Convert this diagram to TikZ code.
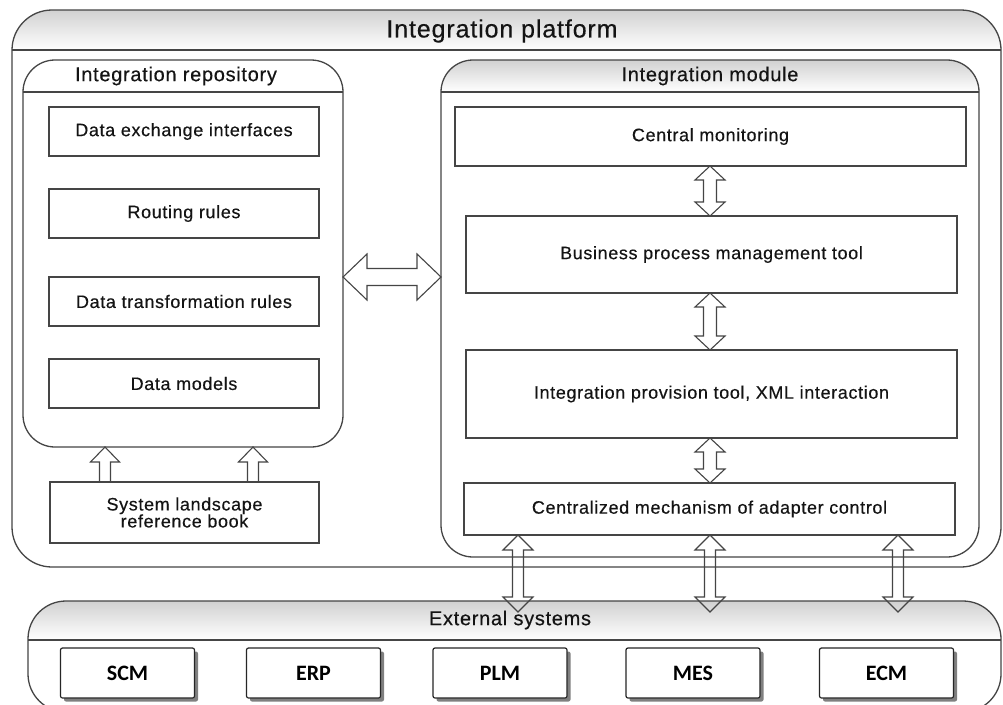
\documentclass[tikz,border=0pt]{standalone}
\usepackage{fontspec}
\setmainfont{Liberation Sans}
\newfontfamily\lblfont{Liberation Sans}[LetterSpace=3.5, FakeBold=0.35]
\newfontfamily\sysfont{Carlito}
\usetikzlibrary{calc,shadows}

\definecolor{edge}{gray}{0.27}
\definecolor{ink}{gray}{0.08}
\definecolor{hdr}{gray}{0.82}

\tikzset{
  every node/.style={inner sep=0pt, outer sep=0pt},
  panel/.style={fill=white},
  frame/.style={draw=edge, line width=1.3pt, rounded corners=#1},
  hline/.style={draw=edge, line width=1.8pt},
  ttl/.style={text=ink, font=\lblfont\fontsize{25}{28}\selectfont},
  subttl/.style={text=ink, font=\lblfont\fontsize{20}{23}\selectfont},
  item/.style={draw=edge, line width=1.2pt, fill=white, text=ink,
      font=\lblfont\fontsize{18}{17}\selectfont, align=center},
  sysbox/.style={draw=black!85, line width=1.2pt, fill=white, rounded corners=2pt,
      minimum width=134pt, minimum height=50pt, text=black,
      font=\sysfont\bfseries\fontsize{22}{24}\selectfont,
      drop shadow={shadow xshift=3.5pt, shadow yshift=-3.5pt, fill=black!50, opacity=1}},
  flow/.style={draw=edge, line width=1.1pt, line join=miter},
}

% rounded panel with a shaded header band: #1 node, #2 corner radius, #3 header line y
\newcommand\headerpanel[3]{%
  \begin{scope}
    \clip[rounded corners=#2] (#1.north west) rectangle (#1.south east);
    \shade[top color=hdr, bottom color=white] (#1.north west) rectangle (#1.east |- 0,#3);
  \end{scope}
  \draw[frame=#2] (#1.north west) rectangle (#1.south east);
  \draw[hline] (#1.west |- 0,#3) -- (#1.east |- 0,#3);}

% double-headed vertical arrow between a top and a bottom point
% #3 head half width, #4 head length, #5 shaft half width
\newcommand\vdarrow[5]{%
  \draw[flow] let \p1=(#1), \p2=(#2) in
    (\x1,\y1) -- (\x1-#3,\y1-#4) -- (\x1-#5,\y1-#4) -- (\x1-#5,\y2+#4)
    -- (\x1-#3,\y2+#4) -- (\x1,\y2) -- (\x1+#3,\y2+#4) -- (\x1+#5,\y2+#4)
    -- (\x1+#5,\y1-#4) -- (\x1+#3,\y1-#4) -- cycle;}
% double-headed horizontal arrow between a left and a right point
\newcommand\hdarrow[5]{%
  \draw[flow] let \p1=(#1), \p2=(#2) in
    (\x1,\y1) -- (\x1+#4,\y1+#3) -- (\x1+#4,\y1+#5) -- (\x2-#4,\y1+#5)
    -- (\x2-#4,\y1+#3) -- (\x2,\y1) -- (\x2-#4,\y1-#3) -- (\x2-#4,\y1-#5)
    -- (\x1+#4,\y1-#5) -- (\x1+#4,\y1-#3) -- cycle;}
% single upward arrow from a base point to a tip point
\newcommand\uparrowshape[5]{%
  \draw[flow] let \p1=(#1), \p2=(#2) in
    (\x1,\y1) -- (\x1+#3,\y1-#4) -- (\x1+#5,\y1-#4) -- (\x1+#5,\y2)
    -- (\x1-#5,\y2) -- (\x1-#5,\y1-#4) -- (\x1-#3,\y1-#4) -- cycle;}

\begin{document}
\begin{tikzpicture}[x=1pt, y=-1pt]
\useasboundingbox (0,0) rectangle (1003,704);
\clip (0,0) rectangle (1003,704);
\fill[white] (0,0) rectangle (1003,704);

% ---- containers ----
\node[panel, minimum width=989pt, minimum height=557pt] (plat) at (506.5,288.5) {};
\headerpanel{plat}{40pt}{50}
\node[ttl] (platT) at (502,31) {Integration platform};

\node[panel, minimum width=320pt, minimum height=387pt] (repo) at (183,253.5) {};
\draw[frame=32pt] (repo.north west) rectangle (repo.south east);
\draw[hline] (repo.west |- 0,92) -- (repo.east |- 0,92);
\node[subttl] (repoT) at (176,76) {Integration repository};

\node[panel, minimum width=538pt, minimum height=497pt] (mod) at (710,308.5) {};
\headerpanel{mod}{32pt}{92}
\node[subttl] (modT) at (710,76) {Integration module};

\node[panel, minimum width=973pt, minimum height=111pt] (ext) at (514.5,656.5) {};
\headerpanel{ext}{38pt}{640}
\node[subttl] (extT) at (510,620) {External systems};

% ---- repository contents ----
\node[item, minimum width=270pt, minimum height=49pt] (dei) at (184,131.5) {Data exchange interfaces};
\node[item, minimum width=270pt, minimum height=49pt] (rr)  at (184,213.5) {Routing rules};
\node[item, minimum width=270pt, minimum height=49pt] (dtr) at (184,301.5) {Data transformation rules};
\node[item, minimum width=270pt, minimum height=49pt] (dm)  at (184,383.5) {Data models};
\node[item, minimum width=269pt, minimum height=61pt] (land) at (184.5,512.5) {System landscape\\reference book};

% ---- module contents ----
\node[item, minimum width=511pt, minimum height=59pt] (cm)  at (710.5,136.5) {Central monitoring};
\node[item, minimum width=491pt, minimum height=77pt] (bpm) at (711.5,254.5) {Business process management tool};
\node[item, minimum width=491pt, minimum height=88pt] (ip)  at (711.5,394) {Integration provision tool, XML interaction};
\node[item, minimum width=491pt, minimum height=52pt] (ad)  at (709.5,509) {Centralized mechanism of adapter control};

% ---- external systems ----
\node[sysbox] (scm) at (127.5,673) {SCM};
\node[sysbox] (erp) at (313.5,673) {ERP};
\node[sysbox] (plm) at (500,673) {PLM};
\node[sysbox] (mes) at (693,673) {MES};
\node[sysbox] (ecm) at (886.5,673) {ECM};

% ---- arrows ----
\coordinate (ax) at (710,0);
\coordinate (hy) at (0,277);
\coordinate (ua1) at (105,0);
\coordinate (ua2) at (253,0);
\coordinate (ba1) at (518,0);
\coordinate (ba2) at (710,0);
\coordinate (ba3) at (898,0);

\hdarrow{repo.east |- hy}{mod.west |- hy}{23pt}{24pt}{8.5pt}

\vdarrow{cm.south -| ax}{bpm.north -| ax}{15pt}{14pt}{6.5pt}
\vdarrow{bpm.south -| ax}{ip.north -| ax}{15pt}{14pt}{6.5pt}
\vdarrow{ip.south -| ax}{ad.north -| ax}{15pt}{14pt}{6.5pt}

\uparrowshape{repo.south -| ua1}{land.north -| ua1}{14.5pt}{15pt}{5.5pt}
\uparrowshape{repo.south -| ua2}{land.north -| ua2}{14.5pt}{15pt}{5.5pt}

\vdarrow{ad.south -| ba1}{$(ext.north -| ba1)+(0,-11pt)$}{15pt}{15pt}{5.5pt}
\vdarrow{ad.south -| ba2}{$(ext.north -| ba2)+(0,-11pt)$}{15pt}{15pt}{5.5pt}
\vdarrow{ad.south -| ba3}{$(ext.north -| ba3)+(0,-11pt)$}{15pt}{15pt}{5.5pt}
\end{tikzpicture}
\end{document}
